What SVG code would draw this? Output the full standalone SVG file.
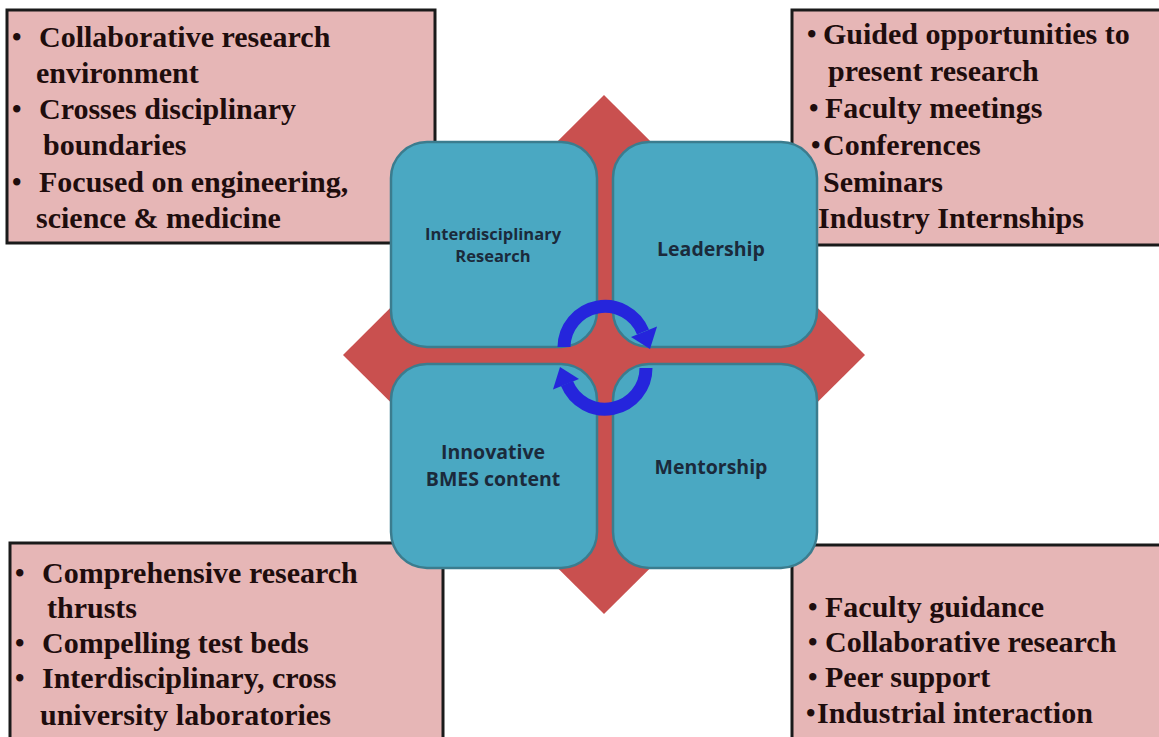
<svg xmlns="http://www.w3.org/2000/svg" width="1159" height="737" viewBox="0 0 1159 737">
<style>
.box{fill:#e6b6b6;stroke:#1a1a1a;stroke-width:3}
.bt{font-family:"Liberation Serif","Times New Roman",serif;font-weight:bold;font-size:30px;fill:#1e0d0d}
.bu{font-family:"Liberation Serif","Times New Roman",serif;font-weight:bold;font-size:27px;fill:#1e0d0d}
.sq{fill:#4aa8c2;stroke:#3b7c8e;stroke-width:2.5}
.sl{font-family:"Open Sans",Lato,sans-serif;font-weight:bold;fill:#1b2a3b;text-anchor:middle}
.arc{fill:none;stroke:#2525dc;stroke-width:13}
.ah{fill:#2525dc}
</style>
<rect width="1159" height="737" fill="#ffffff"/>
<g id="box-top-left">
<rect class="box" x="7" y="10" width="428" height="233"/>
<text class="bu" x="12" y="46">•</text><text class="bt" x="39" y="47">Collaborative research</text>
<text class="bt" x="36" y="83">environment</text>
<text class="bu" x="12" y="118">•</text><text class="bt" x="39" y="119">Crosses disciplinary</text>
<text class="bt" x="43" y="155">boundaries</text>
<text class="bu" x="12" y="191">•</text><text class="bt" x="39" y="192">Focused on engineering,</text>
<text class="bt" x="36" y="228">science &amp; medicine</text>
</g>
<g id="box-top-right">
<rect class="box" x="792" y="10" width="380" height="235"/>
<text class="bu" x="807" y="43">•</text><text class="bt" x="823" y="44">Guided opportunities to</text>
<text class="bt" x="828" y="81">present research</text>
<text class="bu" x="809" y="117">•</text><text class="bt" x="825" y="118">Faculty meetings</text>
<text class="bu" x="811" y="154">•</text><text class="bt" x="823" y="155">Conferences</text>
<text class="bt" x="823" y="192">Seminars</text>
<text class="bt" x="818" y="228">Industry Internships</text>
</g>
<g id="box-bottom-left">
<rect class="box" x="10" y="543" width="433" height="210"/>
<text class="bu" x="15" y="582">•</text><text class="bt" x="42" y="583">Comprehensive research</text>
<text class="bt" x="47" y="618">thrusts</text>
<text class="bu" x="15" y="652">•</text><text class="bt" x="42" y="653">Compelling test beds</text>
<text class="bu" x="15" y="687">•</text><text class="bt" x="42" y="688">Interdisciplinary, cross</text>
<text class="bt" x="40" y="725">university laboratories</text>
</g>
<g id="box-bottom-right">
<rect class="box" x="792" y="545" width="380" height="210"/>
<text class="bu" x="808" y="616">•</text><text class="bt" x="825" y="617">Faculty guidance</text>
<text class="bu" x="808" y="651">•</text><text class="bt" x="825" y="652">Collaborative research</text>
<text class="bu" x="808" y="686">•</text><text class="bt" x="825" y="687">Peer support</text>
<text class="bu" x="806" y="722">•</text><text class="bt" x="817" y="723">Industrial interaction</text>
</g>
<g id="diamond">
<polygon points="604,95 865,355 604,614 343,355" fill="#c9504f"/>
</g>
<g id="node-interdisciplinary">
<rect class="sq" x="391" y="142" width="206" height="205" rx="36"/>
<text class="sl" x="493" y="240" font-size="16.5">Interdisciplinary</text>
<text class="sl" x="493" y="262" font-size="16.5">Research</text>
</g>
<g id="node-leadership">
<rect class="sq" x="613" y="142" width="204" height="205" rx="36"/>
<text class="sl" x="711" y="256" font-size="19.5">Leadership</text>
</g>
<g id="node-innovative">
<rect class="sq" x="391" y="364" width="206" height="204" rx="36"/>
<text class="sl" x="493" y="459" font-size="19.5">Innovative</text>
<text class="sl" x="493" y="486" font-size="19.5">BMES content</text>
</g>
<g id="node-mentorship">
<rect class="sq" x="613" y="364" width="204" height="204" rx="36"/>
<text class="sl" x="711" y="474" font-size="19.5">Mentorship</text>
</g>
<g id="connectors">
<path class="arc" d="M 564 347 A 41 41 0 0 1 643 332"/>
<polygon class="ah" points="631,337 657,326.5 650,349"/>
<path class="arc" d="M 646 368 A 41 41 0 0 1 567 383.5"/>
<polygon class="ah" points="579,379 553,389.5 560,367"/>
</g>
</svg>
